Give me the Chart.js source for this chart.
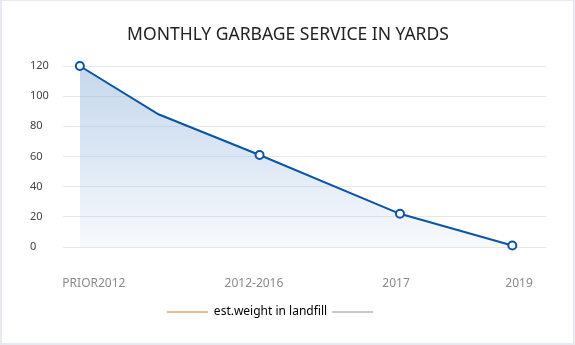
<!DOCTYPE html>
<html>
<head>
<meta charset="utf-8">
<script src="https://cdn.jsdelivr.net/npm/chart.js@4.4.1/dist/chart.umd.min.js"></script>
<style>
  html, body { margin: 0; padding: 0; background: #fff; }
  #wrap {
    width: 575px; height: 345px; box-sizing: border-box;
    border: 2px solid #e8e8f2; border-top-width: 1px;
  }
  #wrap canvas { display: block; }
</style>
</head>
<body>
<div id="wrap"><canvas id="chart"></canvas></div>
<script>
// point positions on a year-like axis and their values
const pointX = [2011.3, 2012.7, 2014.5, 2017.0, 2019.0];
const pointValues = [120, 88, 61, 22, 1];
const showMarker = [true, false, true, true, true];

// tick labels and where they sit on the same axis
const tickLabels = ['PRIOR2012', '2012-2016', '2017', '2019'];
const tickX = [2011.55, 2014.4, 2016.93, 2019.12];

const seriesLabel = 'est.weight in landfill';

// the legend row sits a bit left of centre in the original
const legendShift = {
    id: 'legendShift',
    afterLayout(chart) {
        chart.legend.left -= 15;
        chart.legend.right -= 15;
    }
};

const ctx = document.getElementById('chart').getContext('2d');

new Chart(ctx, {
    type: 'line',
    plugins: [legendShift],
    data: {
        datasets: [{
            label: seriesLabel,
            data: pointX.map((x, i) => ({ x: x, y: pointValues[i] })),
            borderColor: '#0b54a5',
            borderWidth: 2,
            tension: 0,
            pointRadius: showMarker.map(m => (m ? 4 : 0)),
            pointHoverRadius: showMarker.map(m => (m ? 4 : 0)),
            pointBorderWidth: 2,
            pointBackgroundColor: '#ffffff',
            pointBorderColor: '#0b54a5',
            fill: 'origin',
            clip: false,
            backgroundColor: (context) => {
                const area = context.chart.chartArea;
                if (!area) return 'rgba(140,175,215,0.45)';
                const g = context.chart.ctx.createLinearGradient(0, area.top, 0, area.bottom);
                g.addColorStop(0, 'rgba(135,172,213,0.48)');
                g.addColorStop(0.5, 'rgba(155,188,224,0.36)');
                g.addColorStop(1, 'rgba(205,218,238,0.18)');
                return g;
            }
        }]
    },
    options: {
        responsive: true,
        maintainAspectRatio: false,
        animation: false,
        layout: { padding: { left: 28, right: 27, top: 0, bottom: 15 } },
        plugins: {
            title: {
                display: true,
                text: 'MONTHLY GARBAGE SERVICE IN YARDS',
                color: '#222222',
                font: { family: 'Noto Sans', size: 17.5, weight: 'normal' },
                padding: { top: 24, bottom: 20 }
            },
            legend: {
                position: 'bottom',
                labels: {
                    usePointStyle: true,
                    pointStyleWidth: 41,
                    boxWidth: 41,
                    padding: 5,
                    color: '#444444',
                    font: { family: 'Noto Sans', size: 12 },
                    generateLabels: () => [
                        { text: seriesLabel, pointStyle: 'line', strokeStyle: '#d8752f', fillStyle: '#d8752f', lineWidth: 1, hidden: false, datasetIndex: 0 },
                        { text: '', pointStyle: 'line', strokeStyle: '#949494', fillStyle: '#949494', lineWidth: 1, hidden: false }
                    ]
                },
                onClick: () => {}
            },
            tooltip: { enabled: false }
        },
        scales: {
            x: {
                type: 'linear',
                min: 2011.0,
                max: 2019.6,
                grid: { display: false, drawTicks: false },
                border: { display: false },
                afterBuildTicks: (axis) => {
                    axis.ticks = tickX.map(v => ({ value: v }));
                },
                afterFit: (axis) => { axis.height = 54; },
                ticks: {
                    autoSkip: false,
                    maxRotation: 0,
                    padding: 29,
                    color: '#8a8a8a',
                    font: { family: 'Noto Sans', size: 12 },
                    callback: (value, index) => tickLabels[index]
                }
            },
            y: {
                min: 0,
                max: 120,
                afterFit: (axis) => { axis.width = 33; },
                grid: { color: '#e7e7e7', drawTicks: false },
                border: { display: false },
                ticks: {
                    stepSize: 20,
                    crossAlign: 'far',
                    padding: 8,
                    color: '#444444',
                    font: { family: 'Noto Sans', size: 11 }
                }
            }
        }
    }
});
</script>
</body>
</html>
